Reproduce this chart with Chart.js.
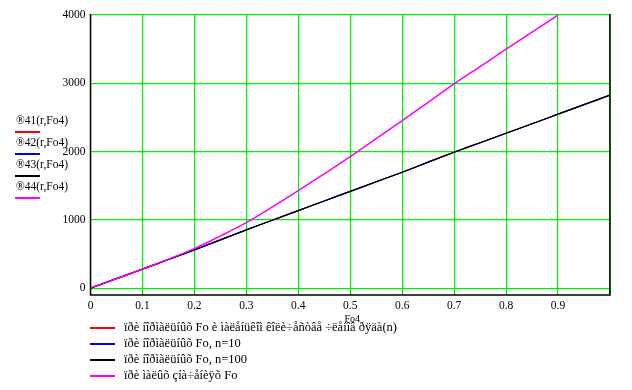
<!DOCTYPE html>
<html>
<head>
<meta charset="utf-8">
<script src="https://cdn.jsdelivr.net/npm/chart.js@4"></script>
<style>
body{margin:0;background:#fff;}
#wrap{position:relative;width:632px;height:390px;}
canvas{position:absolute;left:0;top:0;}
.lg{position:absolute;font-family:"Liberation Serif","Times New Roman",serif;color:#000;white-space:nowrap;line-height:1;}
.sw{position:absolute;height:2px;}
</style>
</head>
<body>
<div id="wrap">
<canvas id="plot" width="632" height="390"></canvas>
</div>
<script>
// x values (Fo4)
const fo = [0,0.05,0.1,0.15,0.2,0.25,0.3,0.35,0.4,0.45,0.5,0.55,0.6,0.65,0.7,0.75,0.8,0.85,0.9,0.95,1.0];
// series values
const theta41 = [0,140,278,420,561,707,853,995,1136,1277,1417,1558,1698,1845,1991,2130,2269,2408,2548,2687,2826];
const theta42 = theta41.slice();
const theta43 = theta41.slice();
const foSmall = [0,0.05,0.1,0.15,0.2,0.25,0.3,0.35,0.4,0.45,0.5,0.55,0.6,0.65,0.7,0.75,0.8,0.85,0.9];
const theta44 = [0,140,278,425,580,765,960,1190,1429,1675,1927,2190,2454,2722,2991,3245,3499,3750,4000];

const names = ['\u00AE41(r,Fo4)','\u00AE42(r,Fo4)','\u00AE43(r,Fo4)','\u00AE44(r,Fo4)'];
const descr = [
  '\u00EF\u00F0\u00E8 \u00ED\u00EE\u00F0\u00EC\u00E0\u00EB\u00FC\u00ED\u00FB\u00F5 Fo \u00E8 \u00EC\u00E0\u00EB\u00E5\u00ED\u00FC\u00EA\u00EE\u00EC \u00EA\u00EE\u00EB\u00E8\u00F7\u00E5\u00F1\u00F2\u00E2\u00E5 \u00F7\u00EB\u00E5\u00ED\u00EE\u00E2 \u00F0\u00FF\u00E4\u00E0(n)',
  '\u00EF\u00F0\u00E8 \u00ED\u00EE\u00F0\u00EC\u00E0\u00EB\u00FC\u00ED\u00FB\u00F5 Fo, n=10',
  '\u00EF\u00F0\u00E8 \u00ED\u00EE\u00F0\u00EC\u00E0\u00EB\u00FC\u00ED\u00FB\u00F5 Fo, n=100',
  '\u00EF\u00F0\u00E8 \u00EC\u00E0\u00EB\u00FB\u00F5 \u00E7\u00ED\u00E0\u00F7\u00E5\u00ED\u00E8\u00FF\u00F5 Fo'
];
const colors = ['#ff0000','#0000ff','#000000','#ff00ff'];
const yTicks = [0,1000,2000,3000,4000];
const xTicks = [0,0.1,0.2,0.3,0.4,0.5,0.6,0.7,0.8,0.9,1.0];

const serif = '"Liberation Serif","Times New Roman",serif';

function pts(xs, ys){ return xs.map((x,i)=>({x:x,y:ys[i]})); }

// black frame left/bottom/right, plus the axis name under the ticks
const framePlugin = {
  id:'frame',
  afterDatasetsDraw(chart){
    const a = chart.chartArea, c = chart.ctx;
    c.save();
    c.strokeStyle = '#000';
    c.lineWidth = 1.5;
    c.beginPath();
    c.moveTo(a.left, a.top-1);
    c.lineTo(a.left, a.bottom);
    c.lineTo(a.right, a.bottom);
    c.lineTo(a.right, a.top-1);
    c.stroke();
    c.fillStyle = '#000';
    c.font = '10px ' + serif;
    c.textAlign = 'center';
    c.textBaseline = 'middle';
    c.fillText('Fo4', chart.scales.x.getPixelForValue(0.5) + 2, 319);
    c.restore();
  }
};

const orders = [3,2,1,0];
const datasets = [theta41,theta42,theta43].map((d,i)=>({
  label:names[i], data:pts(fo,d), borderColor:colors[i], borderWidth:1.2,
  pointRadius:0, fill:false, tension:0.3, order:orders[i]
}));
datasets.push({label:names[3], data:pts(foSmall,theta44), borderColor:colors[3], borderWidth:1.5,
  pointRadius:0, fill:false, tension:0.3, order:orders[3]});

new Chart(document.getElementById('plot'), {
  type:'line',
  data:{datasets:datasets},
  options:{
    responsive:false,
    animation:false,
    layout:{padding:{top:15,right:22,left:0,bottom:0}},
    plugins:{legend:{display:false},tooltip:{enabled:false}},
    scales:{
      x:{
        type:'linear', min:0, max:1,
        afterBuildTicks(s){ s.ticks = xTicks.map(v=>({value:v})); },
        afterFit(s){ s.height = 95; },
        grid:{color:'#00ee00', lineWidth:1.2, drawTicks:false},
        border:{display:false},
        ticks:{font:{family:serif,size:11.5}, color:'#000', padding:4, maxRotation:0,
          callback:v=> v>=1 ? '' : String(Math.round(v*10)/10)}
      },
      y:{
        min:-100, max:4000,
        afterBuildTicks(s){ s.ticks = yTicks.map(v=>({value:v})); },
        afterFit(s){ s.width = 90.5; },
        grid:{color:'#00ee00', lineWidth:1.2, drawTicks:false},
        border:{display:false},
        ticks:{font:{family:serif,size:11.5}, color:'#000', padding:5, callback:v=>String(v)}
      }
    }
  },
  plugins:[framePlugin]
});

// legends as real text
const wrap = document.getElementById('wrap');
names.forEach((n,i)=>{
  const t = document.createElement('div');
  t.className='lg'; t.textContent=n;
  t.style.left='16px'; t.style.top=(115+i*22)+'px'; t.style.fontSize='11.5px';
  wrap.appendChild(t);
  const s = document.createElement('div');
  s.className='sw'; s.style.background=colors[i];
  s.style.left='15px'; s.style.width='25px'; s.style.top=(131+i*22)+'px';
  wrap.appendChild(s);
});
descr.forEach((n,i)=>{
  const s = document.createElement('div');
  s.className='sw'; s.style.background=colors[i];
  s.style.left='90px'; s.style.width='25px'; s.style.top=(327+i*16)+'px';
  wrap.appendChild(s);
  const t = document.createElement('div');
  t.className='lg'; t.textContent=n;
  t.style.left='124px'; t.style.top=(321+i*16)+'px'; t.style.fontSize='12.5px';
  wrap.appendChild(t);
});
</script>
</body>
</html>
